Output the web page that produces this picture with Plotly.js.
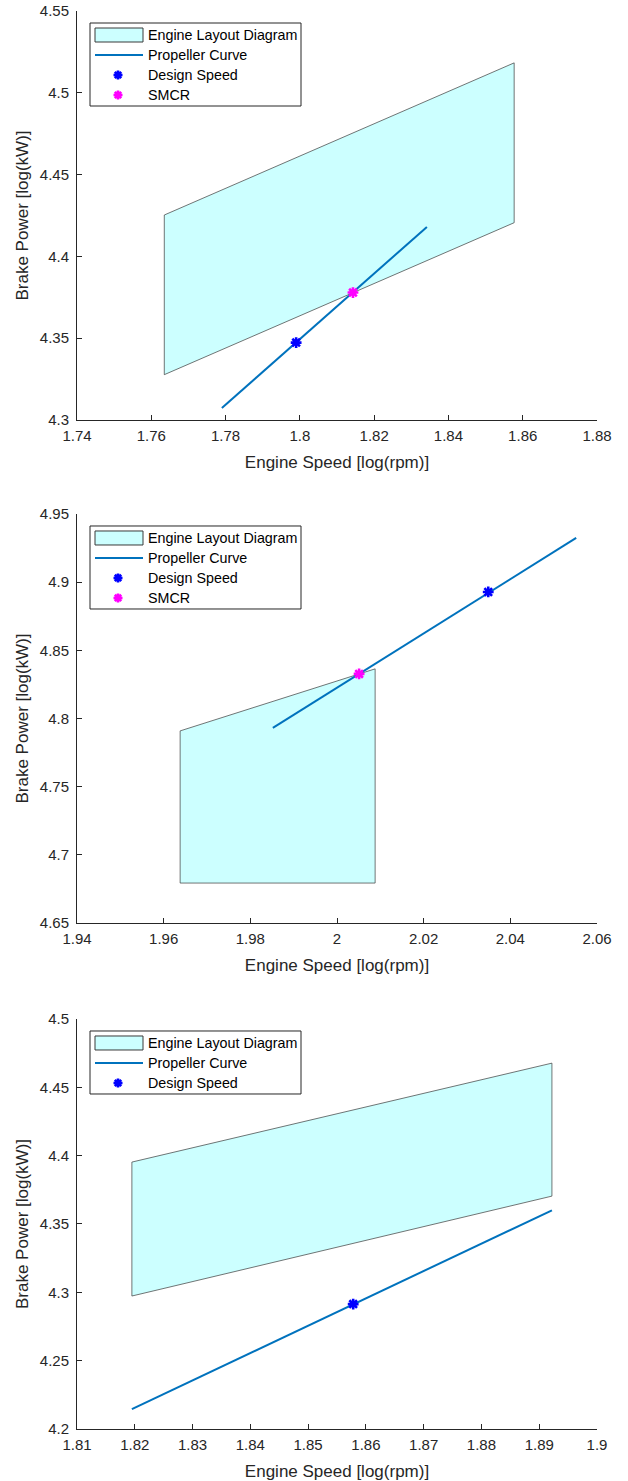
<!DOCTYPE html>
<html>
<head>
<meta charset="utf-8">
<script src="https://cdn.plot.ly/plotly-3.0.1.min.js"></script>
<style>
  html, body { margin: 0; padding: 0; background: #ffffff; }
  #chart { width: 628px; height: 1481px; }
</style>
</head>
<body>
<div id="chart"></div>
<script>
// ---- Case 1: engine layout, propeller curve, design speed and SMCR ----
const layout1Speed = [1.7635, 1.7635, 1.8577, 1.8577, 1.7635];
const layout1Power = [4.3277, 4.4253, 4.5183, 4.4206, 4.3277];
const prop1Speed = [1.779, 1.8342];
const prop1Power = [4.3073, 4.4180];
const design1Speed = [1.799];
const design1Power = [4.3473];
const smcr1Speed = [1.8143];
const smcr1Power = [4.3779];
const speedTicks1 = [1.74, 1.76, 1.78, 1.80, 1.82, 1.84, 1.86, 1.88];
const powerTicks1 = [4.30, 4.35, 4.40, 4.45, 4.50, 4.55];

// ---- Case 2 ----
const layout2Speed = [1.9638, 1.9638, 2.0088, 2.0088, 1.9638];
const layout2Power = [4.6793, 4.7909, 4.8364, 4.6793, 4.6793];
const prop2Speed = [1.9852, 2.0552];
const prop2Power = [4.7931, 4.9325];
const design2Speed = [2.0349];
const design2Power = [4.8928];
const smcr2Speed = [2.0051];
const smcr2Power = [4.8327];
const speedTicks2 = [1.94, 1.96, 1.98, 2.00, 2.02, 2.04, 2.06];
const powerTicks2 = [4.65, 4.70, 4.75, 4.80, 4.85, 4.90, 4.95];

// ---- Case 3 (no SMCR point) ----
const layout3Speed = [1.8195, 1.8195, 1.8922, 1.8922, 1.8195];
const layout3Power = [4.2973, 4.3953, 4.4677, 4.3704, 4.2973];
const prop3Speed = [1.8195, 1.8922];
const prop3Power = [4.2146, 4.3600];
const design3Speed = [1.8578];
const design3Power = [4.2914];
const speedTicks3 = [1.81, 1.82, 1.83, 1.84, 1.85, 1.86, 1.87, 1.88, 1.89, 1.90];
const powerTicks3 = [4.20, 4.25, 4.30, 4.35, 4.40, 4.45, 4.50];

const legendNames = ['Engine Layout Diagram', 'Propeller Curve', 'Design Speed', 'SMCR'];

const FONT = 'Liberation Sans, Arial, Helvetica, sans-serif';
const AXIS_COLOR = '#262626';
const PATCH_FILL = '#ccffff';
const PATCH_EDGE = '#3a3a3a';
const PROP_COLOR = '#0072bd';
const DESIGN_COLOR = '#0000ff';
const SMCR_COLOR = '#ff00ff';

function patchTrace(x, y, ax) {
  return {
    type: 'scatter', mode: 'lines', x: x, y: y, fill: 'toself',
    fillcolor: PATCH_FILL, line: {color: PATCH_EDGE, width: 0.7},
    name: legendNames[0], showlegend: false, hoverinfo: 'skip',
    xaxis: 'x' + ax, yaxis: 'y' + ax
  };
}
function propTrace(x, y, ax) {
  return {
    type: 'scatter', mode: 'lines', x: x, y: y,
    line: {color: PROP_COLOR, width: 2},
    name: legendNames[1], showlegend: false,
    xaxis: 'x' + ax, yaxis: 'y' + ax
  };
}
function pointTrace(x, y, color, name, ax) {
  return {
    type: 'scatter', mode: 'markers', x: x, y: y,
    marker: {symbol: 'asterisk-open', size: 9, color: color, line: {color: color, width: 2.6}},
    name: name, showlegend: false,
    xaxis: 'x' + ax, yaxis: 'y' + ax
  };
}

const data = [
  patchTrace(layout1Speed, layout1Power, ''),
  propTrace(prop1Speed, prop1Power, ''),
  pointTrace(design1Speed, design1Power, DESIGN_COLOR, legendNames[2], ''),
  pointTrace(smcr1Speed, smcr1Power, SMCR_COLOR, legendNames[3], ''),

  patchTrace(layout2Speed, layout2Power, '2'),
  propTrace(prop2Speed, prop2Power, '2'),
  pointTrace(design2Speed, design2Power, DESIGN_COLOR, legendNames[2], '2'),
  pointTrace(smcr2Speed, smcr2Power, SMCR_COLOR, legendNames[3], '2'),

  patchTrace(layout3Speed, layout3Power, '3'),
  propTrace(prop3Speed, prop3Power, '3'),
  pointTrace(design3Speed, design3Power, DESIGN_COLOR, legendNames[2], '3')
];

function xAxis(ticks, anchor) {
  return {
    range: [ticks[0], ticks[ticks.length - 1]], tickvals: ticks,
    anchor: anchor, domain: [0, 1],
    showline: true, linecolor: AXIS_COLOR, linewidth: 1, mirror: false,
    ticks: 'inside', ticklen: 5, tickcolor: AXIS_COLOR, tickwidth: 1,
    ticklabelstandoff: 2,
    showgrid: false, zeroline: false,
    tickfont: {family: FONT, size: 15, color: AXIS_COLOR},
    title: {text: 'Engine Speed [log(rpm)]', standoff: 13,
            font: {family: FONT, size: 17, color: AXIS_COLOR}},
    fixedrange: true
  };
}
function yAxis(ticks, anchor, domain) {
  return {
    range: [ticks[0], ticks[ticks.length - 1]], tickvals: ticks,
    anchor: anchor, domain: domain,
    showline: true, linecolor: AXIS_COLOR, linewidth: 1, mirror: false,
    ticks: 'inside', ticklen: 5, tickcolor: AXIS_COLOR, tickwidth: 1,
    ticklabelstandoff: 4,
    showgrid: false, zeroline: false,
    tickfont: {family: FONT, size: 15, color: AXIS_COLOR},
    title: {text: 'Brake Power [log(kW)]', standoff: 6,
            font: {family: FONT, size: 17, color: AXIS_COLOR}},
    fixedrange: true
  };
}

// Legend box drawn in pixel offsets from each plot's top-left corner
function legendItems(ax, entries) {
  const xr = 'x' + ax + ' domain';
  const yr = 'y' + ax + ' domain';
  const base = {xref: xr, yref: yr, xsizemode: 'pixel', ysizemode: 'pixel', xanchor: 0, yanchor: 1};
  const rowY = [-24, -44, -64, -84];
  const boxBottom = rowY[entries.length - 1] - 11;
  const shapes = [];
  const annotations = [];
  shapes.push(Object.assign({}, base, {
    type: 'rect', x0: 13, x1: 224, y0: -12, y1: boxBottom,
    fillcolor: '#ffffff', line: {color: AXIS_COLOR, width: 1}
  }));
  entries.forEach(function (entry, i) {
    const cy = rowY[i];
    if (entry.kind === 'patch') {
      shapes.push(Object.assign({}, base, {
        type: 'rect', x0: 18, x1: 66, y0: cy - 7, y1: cy + 7,
        fillcolor: PATCH_FILL, line: {color: PATCH_EDGE, width: 1}
      }));
    } else if (entry.kind === 'line') {
      shapes.push(Object.assign({}, base, {
        type: 'line', x0: 18, x1: 66, y0: cy, y1: cy,
        line: {color: PROP_COLOR, width: 2}
      }));
    } else {
      const cx = 41, r = 4.5, d = 3.2;
      const p = 'M' + (cx - r) + ',' + cy + 'L' + (cx + r) + ',' + cy +
                'M' + cx + ',' + (cy - r) + 'L' + cx + ',' + (cy + r) +
                'M' + (cx - d) + ',' + (cy - d) + 'L' + (cx + d) + ',' + (cy + d) +
                'M' + (cx - d) + ',' + (cy + d) + 'L' + (cx + d) + ',' + (cy - d);
      shapes.push(Object.assign({}, base, {
        type: 'path', path: p, line: {color: entry.color, width: 2.6}
      }));
    }
    annotations.push({
      xref: xr, yref: yr, x: 0, y: 1, xshift: 69, yshift: cy,
      xanchor: 'left', yanchor: 'middle', showarrow: false,
      text: entry.name, font: {family: FONT, size: 14.3, color: '#000000'}
    });
  });
  return {shapes: shapes, annotations: annotations};
}

const fullEntries = [
  {kind: 'patch', name: legendNames[0]},
  {kind: 'line', name: legendNames[1]},
  {kind: 'marker', name: legendNames[2], color: DESIGN_COLOR},
  {kind: 'marker', name: legendNames[3], color: SMCR_COLOR}
];
const leg1 = legendItems('', fullEntries);
const leg2 = legendItems('2', fullEntries);
const leg3 = legendItems('3', fullEntries.slice(0, 3));

const layout = {
  width: 628, height: 1481,
  margin: {l: 77, r: 31, t: 11, b: 52, pad: 0},
  paper_bgcolor: '#ffffff', plot_bgcolor: '#ffffff',
  showlegend: false,
  font: {family: FONT, color: AXIS_COLOR},
  xaxis: xAxis(speedTicks1, 'y'),
  yaxis: yAxis(powerTicks1, 'x', [0.71157, 1]),
  xaxis2: xAxis(speedTicks2, 'y2'),
  yaxis2: yAxis(powerTicks2, 'x2', [0.35684, 0.64528]),
  xaxis3: xAxis(speedTicks3, 'y3'),
  yaxis3: yAxis(powerTicks3, 'x3', [0, 0.28914]),
  shapes: leg1.shapes.concat(leg2.shapes, leg3.shapes),
  annotations: leg1.annotations.concat(leg2.annotations, leg3.annotations)
};

Plotly.newPlot('chart', data, layout, {displayModeBar: false, staticPlot: true});
</script>
</body>
</html>
